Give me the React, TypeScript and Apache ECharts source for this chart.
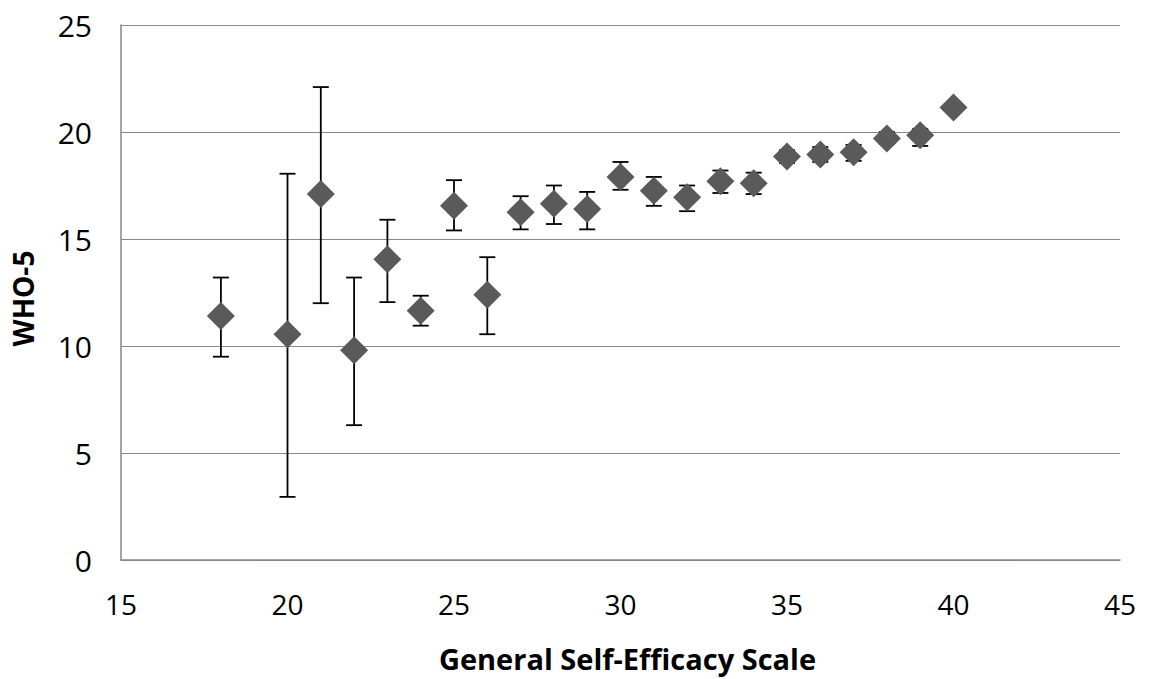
import React, { useEffect, useRef } from "react";
import * as echarts from "echarts";

const xValues = [18, 20, 21, 22, 23, 24, 25, 26, 27, 28, 29, 30, 31, 32, 33, 34, 35, 36, 37, 38, 39, 40];
const meanValues = [11.4, 10.55, 17.1, 9.8, 14.05, 11.65, 16.55, 12.4, 16.25, 16.65, 16.4, 17.9, 17.25, 16.95, 17.7, 17.6, 18.85, 18.95, 19.05, 19.7, 19.85, 21.15];
const upperValues = [13.2, 18.05, 22.1, 13.2, 15.9, 12.35, 17.75, 14.15, 17.0, 17.5, 17.2, 18.6, 17.9, 17.5, 18.2, 18.1, 19.15, 19.3, 19.4, 20.0, 20.15, 21.35];
const lowerValues = [9.5, 2.95, 12.0, 6.3, 12.05, 10.95, 15.4, 10.55, 15.45, 15.7, 15.45, 17.3, 16.55, 16.3, 17.15, 17.1, 18.55, 18.6, 18.65, 19.45, 19.35, 20.95];

const xTitle = "General Self-Efficacy Scale";
const yTitle = "WHO-5";

export default function App() {
  const ref = useRef<HTMLDivElement>(null);
  useEffect(() => {
    if (!ref.current) return;
    const chart = echarts.init(ref.current, null, { renderer: "svg" });
    const errData = xValues.map((x, i) => [x, lowerValues[i], upperValues[i]]);
    const pts = xValues.map((x, i) => [x, meanValues[i]]);
    const font = "'Open Sans', 'Liberation Sans', sans-serif";
    chart.setOption({
      animation: false,
      backgroundColor: "#ffffff",
      grid: { left: 121, right: 34, top: 25, bottom: 119, containLabel: false },
      xAxis: {
        type: "value",
        min: 15,
        max: 45,
        interval: 5,
        name: xTitle,
        nameLocation: "middle",
        nameGap: 84,
        nameTextStyle: { fontFamily: font, fontWeight: "bold", fontSize: 29, color: "#000", padding: [0, 0, 0, 14] },
        axisLine: { show: true, lineStyle: { color: "#868686", width: 1.5 } },
        axisTick: { show: false },
        axisLabel: { fontFamily: font, fontSize: 28, color: "#000", margin: 30 },
        splitLine: { show: false },
      },
      yAxis: {
        type: "value",
        min: 0,
        max: 25,
        interval: 5,
        name: yTitle,
        nameLocation: "middle",
        nameGap: 84,
        nameRotate: 90,
        nameTextStyle: { fontFamily: font, fontWeight: "bold", fontSize: 28, color: "#000", padding: [0, 12, 0, 0] },
        axisLine: { show: true, lineStyle: { color: "#868686", width: 1.5 } },
        axisTick: { show: false },
        axisLabel: { fontFamily: font, fontSize: 30, color: "#000", margin: 29 },
        splitLine: { show: true, lineStyle: { color: "#888888", width: 1.2 } },
      },
      series: [
        {
          type: "custom",
          data: errData,
          encode: { x: 0, y: [1, 2] },
          z: 2,
          renderItem: (params: any, api: any) => {
            const x = api.value(0);
            const lo = api.coord([x, api.value(1)]);
            const hi = api.coord([x, api.value(2)]);
            const hw = 8;
            const style = { stroke: "#000000", lineWidth: 1.8 };
            return {
              type: "group",
              children: [
                { type: "line", shape: { x1: hi[0], y1: hi[1], x2: lo[0], y2: lo[1] }, style },
                { type: "line", shape: { x1: hi[0] - hw, y1: hi[1], x2: hi[0] + hw, y2: hi[1] }, style },
                { type: "line", shape: { x1: lo[0] - hw, y1: lo[1], x2: lo[0] + hw, y2: lo[1] }, style },
              ],
            };
          },
        },
        {
          type: "scatter",
          data: pts,
          symbol: "diamond",
          symbolSize: 28,
          z: 3,
          itemStyle: { color: "#5a5a5a", opacity: 1 },
        },
      ],
    });
    return () => chart.dispose();
  }, []);
  return (
    <div
      ref={ref}
      style={{ position: "absolute", left: 0, top: 0, width: 1154, height: 679, background: "#fff" }}
    />
  );
}
